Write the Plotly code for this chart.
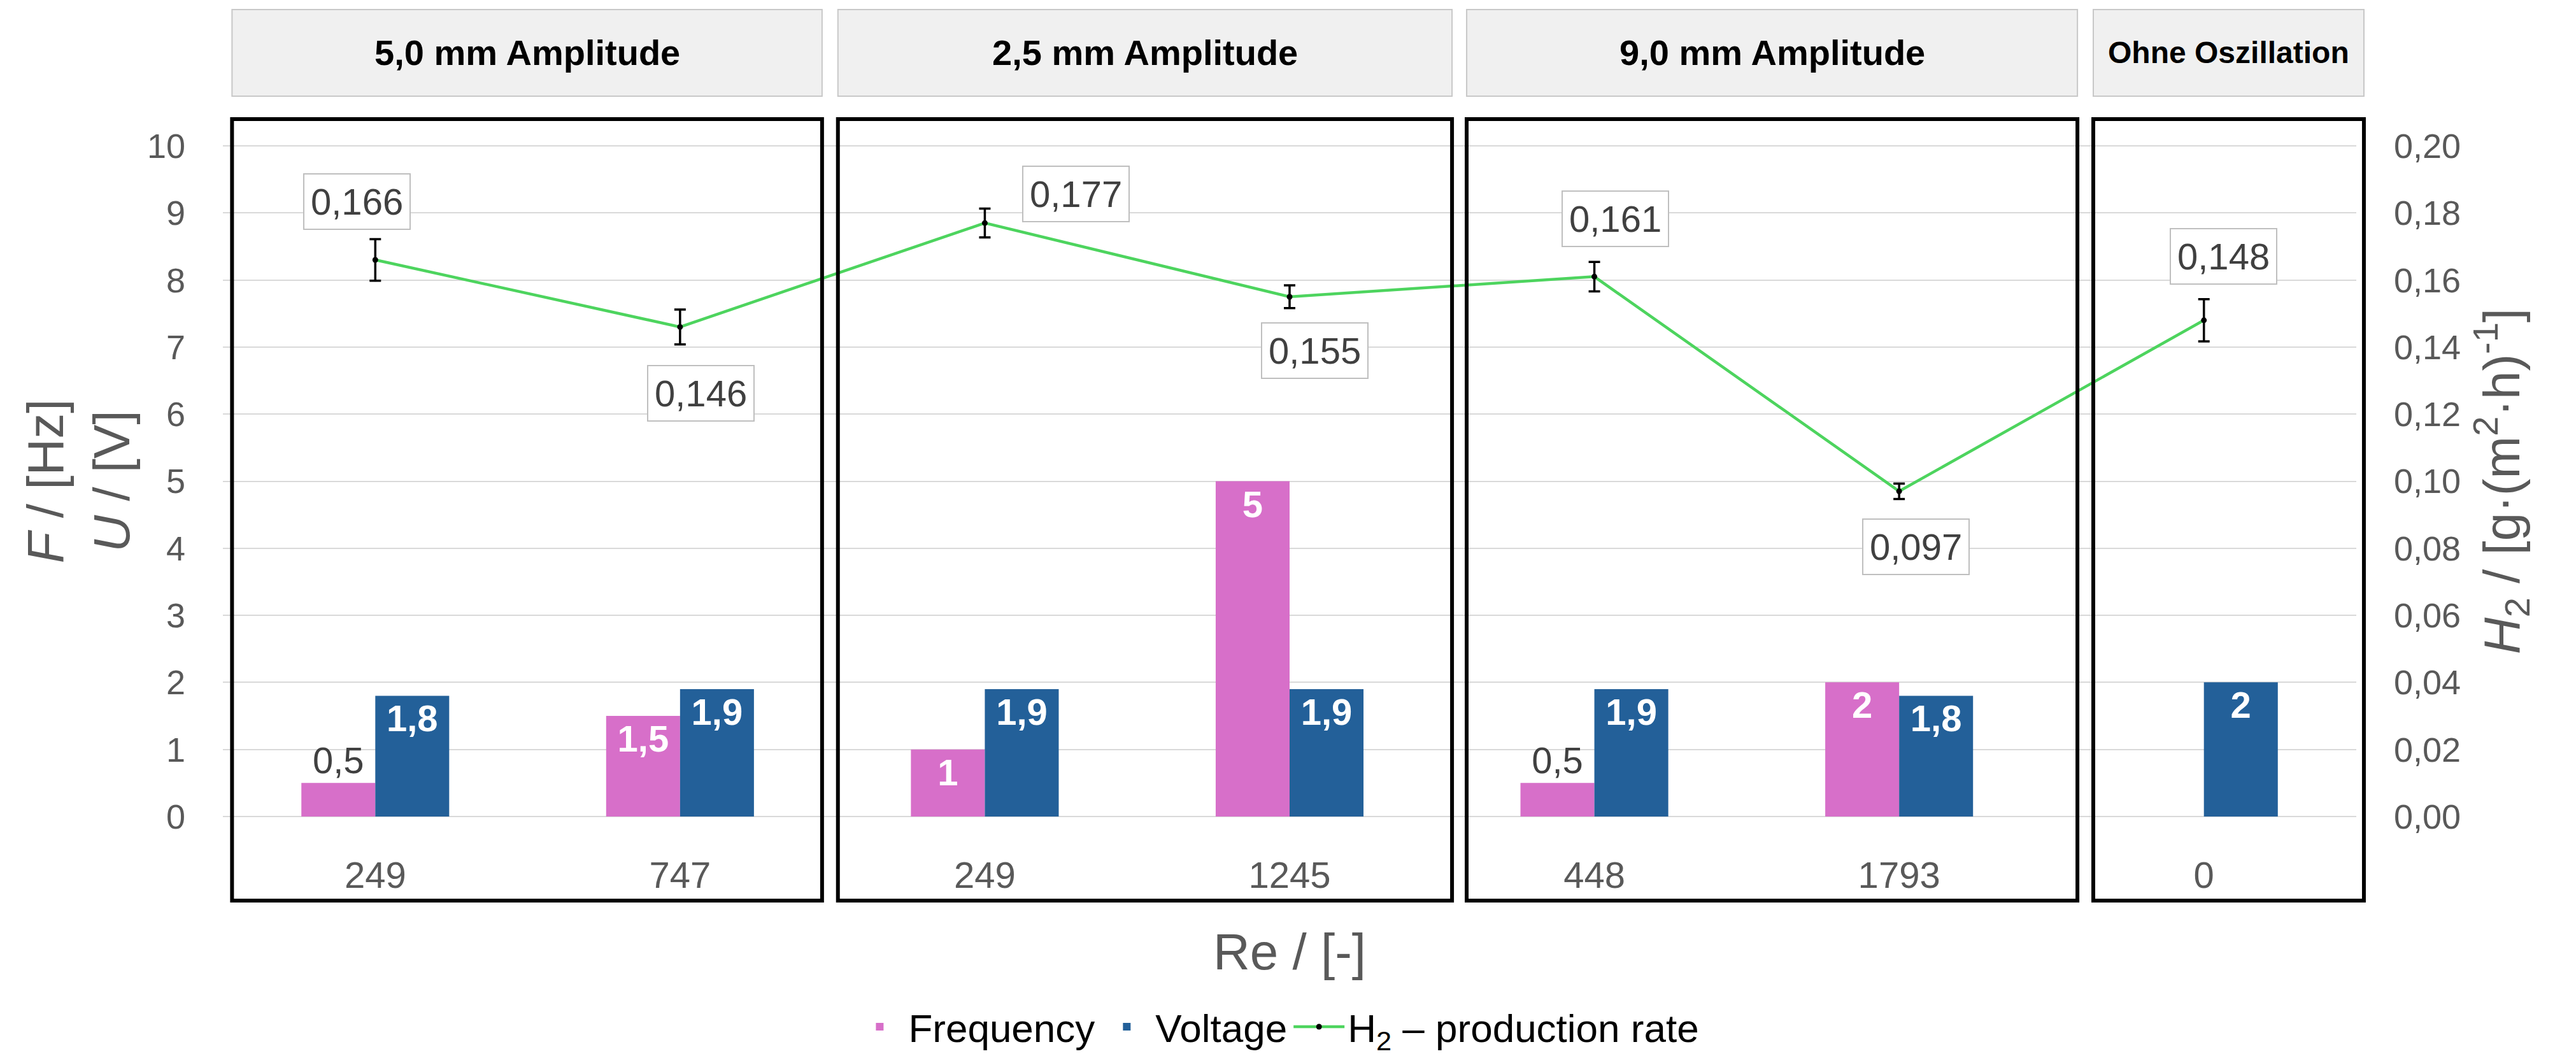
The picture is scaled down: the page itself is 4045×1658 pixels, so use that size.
import plotly.graph_objects as go

# ---------------- data ----------------
re_labels = ["249", "747", "249", "1245", "448", "1793", "0"]
group_names = ["5,0 mm Amplitude", "2,5 mm Amplitude", "9,0 mm Amplitude", "Ohne Oszillation"]
frequency_hz = [0.5, 1.5, 1, 5, 0.5, 2, None]
voltage_v = [1.8, 1.9, 1.9, 1.9, 1.9, 1.8, 2]
h2_rate = [0.166, 0.146, 0.177, 0.155, 0.161, 0.097, 0.148]
h2_error = [0.0062, 0.0052, 0.0043, 0.0034, 0.0044, 0.0023, 0.0063]
left_ticks = [0, 1, 2, 3, 4, 5, 6, 7, 8, 9, 10]
right_ticks = [0.00, 0.02, 0.04, 0.06, 0.08, 0.10, 0.12, 0.14, 0.16, 0.18, 0.20]

# ---------------- layout constants (positions / styles) ----------------
FONT = "Liberation Sans"
GRAY = "#595959"
DARK = "#404040"
PINK = "#D76FC9"
BLUE = "#236099"
GREEN = "#4DD45E"
X_RANGE = (-0.5, 6.5)
GROUP_FRAMES = [(-0.47, 1.466), (1.518, 3.533), (3.581, 5.585), (5.637, 6.525)]
HEADER_SIZES = [56, 56, 56, 48]
FRAME_Y = (-0.1242, 1.0389)
HEADER_Y = (1.073, 1.2019)
LABEL_SHIFTS = [(-29, 92), (33, -104), (143, 46), (39, -85), (33, 91), (26, -87), (31, 100)]

x = list(range(len(re_labels)))


def to_paper(xd):
    return (xd - X_RANGE[0]) / (X_RANGE[1] - X_RANGE[0])


def fmt(v):
    return ("%g" % v).replace(".", ",")


def bar_text(vals):
    txt, pos = [], []
    for v in vals:
        if v is None:
            txt.append(None)
            pos.append("none")
        elif v < 0.75:
            txt.append(fmt(v))
            pos.append("outside")
        else:
            txt.append("<b>" + fmt(v) + "</b>")
            pos.append("inside")
    return txt, pos


f_txt, f_pos = bar_text(frequency_hz)
v_txt, v_pos = bar_text(voltage_v)

fig = go.Figure()
fig.add_trace(go.Bar(
    name="Frequency", x=x, y=frequency_hz, marker=dict(color=PINK, line=dict(width=0)),
    text=f_txt, textposition=f_pos, insidetextanchor="end", textangle=0,
    constraintext="none", cliponaxis=False,
    insidetextfont=dict(family=FONT, size=58, color="white"),
    outsidetextfont=dict(family=FONT, size=58, color=DARK),
))
fig.add_trace(go.Bar(
    name="Voltage", x=x, y=voltage_v, marker=dict(color=BLUE, line=dict(width=0)),
    text=v_txt, textposition=v_pos, insidetextanchor="end", textangle=0,
    constraintext="none", cliponaxis=False,
    insidetextfont=dict(family=FONT, size=58, color="white"),
    outsidetextfont=dict(family=FONT, size=58, color=DARK),
))
fig.add_trace(go.Scatter(
    name="H<sub>2</sub> \u2013 production rate", x=x, y=h2_rate, yaxis="y2",
    mode="lines+markers", line=dict(color=GREEN, width=4.5),
    marker=dict(color="black", size=9),
    error_y=dict(type="data", array=h2_error, color="black", thickness=3.5, width=9),
    cliponaxis=False,
))

shapes = []
annotations = []
for (x0, x1), name, hs in zip(GROUP_FRAMES, group_names, HEADER_SIZES):
    p0, p1 = to_paper(x0), to_paper(x1)
    shapes.append(dict(type="rect", xref="paper", yref="paper", x0=p0, x1=p1,
                       y0=HEADER_Y[0], y1=HEADER_Y[1], fillcolor="#F0F0F0",
                       line=dict(color="#C8C8C8", width=2), layer="above"))
    shapes.append(dict(type="rect", xref="paper", yref="paper", x0=p0, x1=p1,
                       y0=FRAME_Y[0], y1=FRAME_Y[1], fillcolor="rgba(0,0,0,0)",
                       line=dict(color="black", width=6), layer="above"))
    annotations.append(dict(xref="paper", yref="paper", x=(p0 + p1) / 2,
                            y=(HEADER_Y[0] + HEADER_Y[1]) / 2,
                            text="<b>" + name + "</b>", showarrow=False,
                            font=dict(family=FONT, size=hs, color="black"),
                            xanchor="center", yanchor="middle"))

for xi, v, (dx, dy) in zip(x, h2_rate, LABEL_SHIFTS):
    annotations.append(dict(xref="x", yref="y2", x=xi, y=v, xshift=dx, yshift=dy,
                            text=("%.3f" % v).replace(".", ","), showarrow=False,
                            font=dict(family=FONT, size=58, color=DARK),
                            bgcolor="white", bordercolor="#BFBFBF", borderwidth=2,
                            borderpad=10, xanchor="center", yanchor="middle"))

fig.update_layout(
    width=4045, height=1658,
    margin=dict(l=350, r=345, t=228, b=375, autoexpand=False),
    separators=",.",
    font=dict(family=FONT, size=54, color=GRAY),
    plot_bgcolor="white", paper_bgcolor="white",
    barmode="group", bargap=0.515, bargroupgap=0,
    shapes=shapes, annotations=annotations,
    legend=dict(orientation="h", x=0.494, xanchor="center", y=-0.312, yanchor="middle",
                font=dict(family=FONT, size=62, color="black"),
                itemwidth=80,
                bgcolor="rgba(0,0,0,0)"),
    xaxis=dict(range=list(X_RANGE), tickvals=x, ticktext=re_labels, ticks="",
               showgrid=False, zeroline=False, showline=False,
               tickfont=dict(family=FONT, size=58, color=GRAY), ticklabelstandoff=52,
               title=dict(text="Re / [-]", font=dict(family=FONT, size=80, color=GRAY),
                          standoff=60),
               automargin=False),
    yaxis=dict(range=[-0.01, 10.01], tickvals=left_ticks, ticks="",
               showgrid=True, gridcolor="#D9D9D9", gridwidth=2,
               zeroline=False, showline=False,
               tickfont=dict(family=FONT, size=54, color=GRAY), ticklabelstandoff=58,
               title=dict(text="<i>F</i> / [Hz]<br><i>U</i> / [V]",
                          font=dict(family=FONT, size=80, color=GRAY), standoff=0),
               automargin=False),
    yaxis2=dict(overlaying="y", side="right", range=[-0.0002, 0.2002],
                tickvals=right_ticks, tickformat=".2f", ticks="",
                showgrid=False, zeroline=False, showline=False,
                tickfont=dict(family=FONT, size=54, color=GRAY), ticklabelstandoff=58,
                title=dict(text="<i>H</i><sub>2</sub> / [g\u00b7(m<sup>2</sup>\u00b7h)<sup>-1</sup>]",
                           font=dict(family=FONT, size=80, color=GRAY), standoff=36),
                automargin=False),
)

fig.write_html("out.html", config={"displayModeBar": False},
               post_script="document.body.style.margin='0';")
